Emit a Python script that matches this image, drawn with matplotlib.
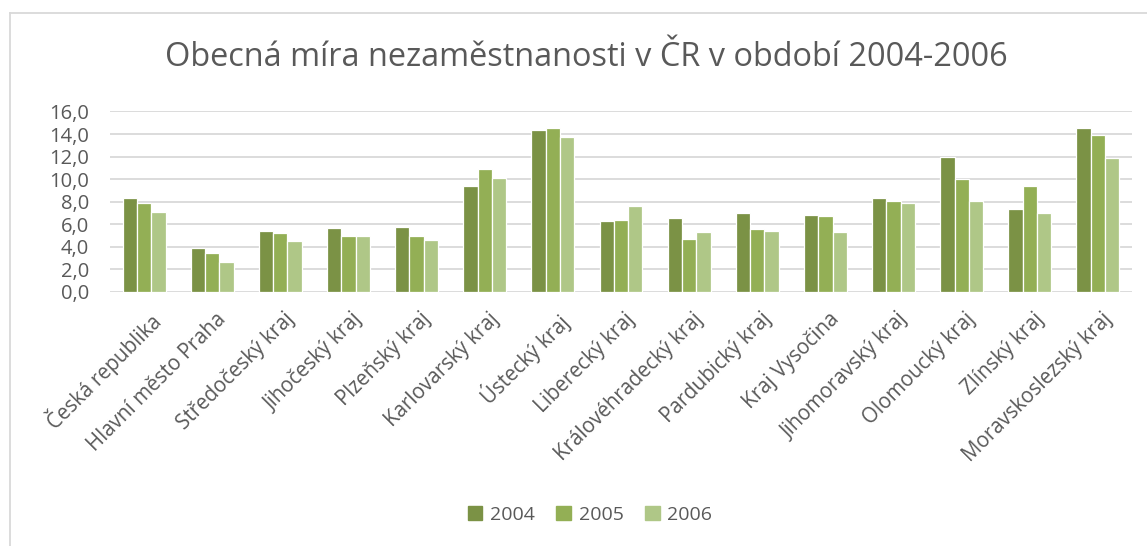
import matplotlib
matplotlib.use("Agg")
import matplotlib.pyplot as plt
import numpy as np
from matplotlib.lines import Line2D

categories = ["Česká republika", "Hlavní město Praha", "Středočeský kraj", "Jihočeský kraj",
              "Plzeňský kraj", "Karlovarský kraj", "Ústecký kraj", "Liberecký kraj",
              "Královéhradecký kraj", "Pardubický kraj", "Kraj Vysočina", "Jihomoravský kraj",
              "Olomoucký kraj", "Zlínský kraj", "Moravskoslezský kraj"]
years = ["2004", "2005", "2006"]
v2004 = [8.3, 3.9, 5.4, 5.7, 5.8, 9.4, 14.4, 6.3, 6.6, 7.0, 6.8, 8.3, 12.0, 7.4, 14.5]
v2005 = [7.9, 3.5, 5.2, 5.0, 5.0, 10.9, 14.5, 6.4, 4.7, 5.6, 6.7, 8.1, 10.0, 9.4, 13.9]
v2006 = [7.1, 2.7, 4.5, 5.0, 4.6, 10.1, 13.7, 7.6, 5.3, 5.4, 5.3, 7.9, 8.1, 7.0, 11.9]
colors = ["#7B9245", "#93AF55", "#AFC787"]
yticks = [0, 2, 4, 6, 8, 10, 12, 14, 16]

txt = "#595959"
grid = "#D9D9D9"
plt.rcParams['font.family'] = ['Open Sans', 'DejaVu Sans']

W, H = 1147, 546
fig = plt.figure(figsize=(W/100, H/100), dpi=100)
ax = fig.add_axes([110/W, 1-292/H, (1132-110)/W, (292-111.5)/H])

x = np.arange(len(categories))
bw = 0.21
for i, (vals, c) in enumerate(zip([v2004, v2005, v2006], colors)):
    ax.bar(x + (i-1)*bw, vals, width=bw, color=c, edgecolor="white", linewidth=0.9,
           label=years[i], zorder=3)

ax.set_xlim(-0.5, len(categories)-0.5)
ax.set_ylim(0, 16)
ax.set_yticks(yticks)
ax.set_yticklabels([f"{t:.1f}".replace(".", ",") for t in yticks], color=txt, fontsize=14.5)
ax.yaxis.grid(True, color=grid, linewidth=1.3, zorder=0)
ax.set_axisbelow(True)
for s in ax.spines.values():
    s.set_visible(False)
ax.tick_params(axis='both', length=0)
ax.tick_params(axis='y', pad=15)
ax.set_xticks(x + 0.05)
ax.set_xticklabels(categories, rotation=45, ha='right', va='top', rotation_mode='anchor',
                   color=txt, fontsize=14.8)
ax.tick_params(axis='x', pad=12)

fig.text(586/W, 1-58/H, "Obecná míra nezaměstnanosti v ČR v období 2004-2006", ha='center',
         va='center', color=txt, fontsize=23.4)

handles = [plt.Rectangle((0, 0), 1, 1, color=c) for c in colors]
fig.legend(handles, years, loc='center', bbox_to_anchor=(590/W, 1-515/H), ncol=3, frameon=False,
           fontsize=14, labelcolor=txt, handlelength=0.75, handleheight=0.75,
           handletextpad=0.4, columnspacing=1.1)

fig.add_artist(Line2D([10/W, 10/W], [0, 1-13/H], transform=fig.transFigure, color=grid, lw=1.3))
fig.add_artist(Line2D([10/W, 1], [1-13/H, 1-13/H], transform=fig.transFigure, color=grid, lw=1.3))

fig.savefig("out.png", dpi=100)
